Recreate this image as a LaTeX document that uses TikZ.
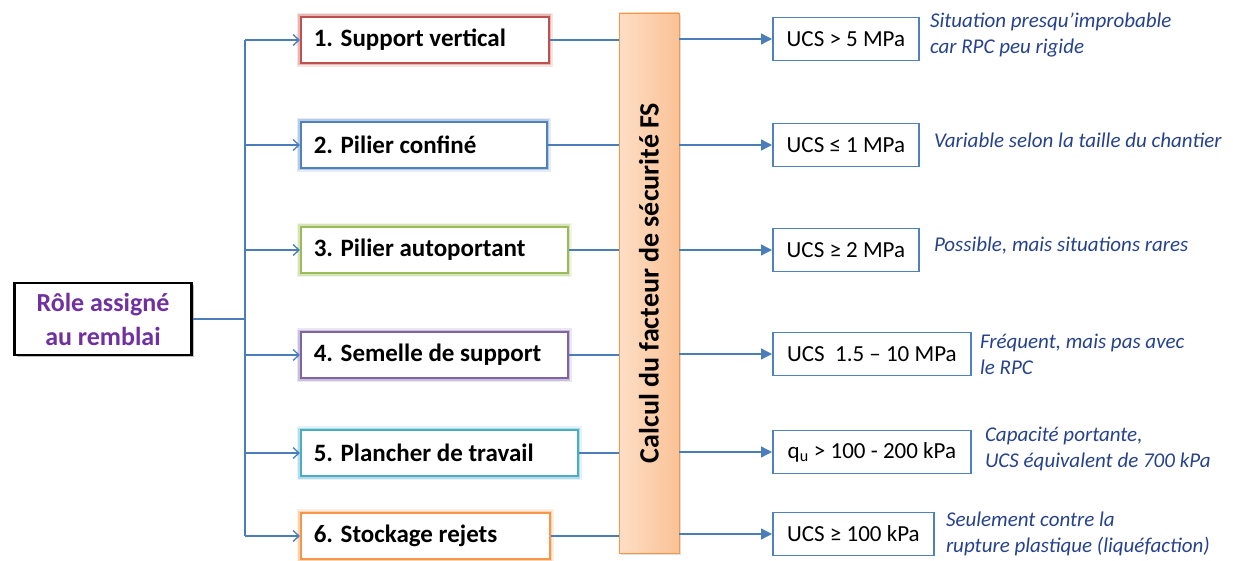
\documentclass[tikz,border=0pt]{standalone}
\usepackage{fontspec}
\setmainfont{Carlito}
\usetikzlibrary{arrows.meta,positioning,shadows}

\definecolor{linkblue}{RGB}{74,126,187}
\definecolor{notecol}{RGB}{38,66,140}
\definecolor{rolepurple}{RGB}{112,48,160}
\definecolor{cred}{RGB}{192,80,77}
\definecolor{cblue}{RGB}{79,129,189}
\definecolor{cgreen}{RGB}{155,187,89}
\definecolor{cpurple}{RGB}{128,100,162}
\definecolor{ccyan}{RGB}{75,172,198}
\definecolor{corange}{RGB}{247,150,70}

\begin{document}
\begin{tikzpicture}[x=1pt,y=-1pt,
  link/.style={draw=linkblue,line width=1.3pt},
  rolebox/.style={draw=#1,line width=1.6pt,fill=white,
    preaction={draw=#1,line width=8pt,opacity=0.15},
    preaction={draw=#1,line width=5pt,opacity=0.3},
    minimum height=46pt,inner xsep=13pt,anchor=west,align=flush left,
    font=\fontsize{25}{28}\selectfont\bfseries},
  ucsbox/.style={draw=cblue,line width=1.8pt,fill=white,minimum height=43pt,
    anchor=west,font=\fontsize{23}{26}\selectfont},
  note/.style={anchor=west,align=flush left,inner sep=0pt,text=notecol,
    font=\fontsize{21}{26}\selectfont\itshape},
  ]
  \useasboundingbox (0,0) rectangle (1233,561);

  % left box
  \node[draw=black,line width=2.5pt,fill=white,drop shadow,minimum width=177pt,
    minimum height=72pt,align=center,text=rolepurple,
    font=\fontsize{26}{34}\selectfont\bfseries] (role) at (103,319)
    {Rôle assigné\\au remblai};

  % roles
  \node[rolebox=cred,text width=222pt] (r1) at (300,40) {1. Support vertical};
  \node[rolebox=cblue,text width=220pt] (r2) at (300,145) {2. Pilier confiné};
  \node[rolebox=cgreen,text width=241pt] (r3) at (300,250) {3. Pilier autoportant};
  \node[rolebox=cpurple,text width=241pt] (r4) at (300,355) {4. Semelle de support};
  \node[rolebox=ccyan,text width=251pt] (r5) at (300,453) {5. Plancher de travail};
  \node[rolebox=corange,text width=223pt] (r6) at (300,536) {6. Stockage rejets};

  % FS bar
  \node[draw=corange,line width=0.8pt,left color={rgb,255:red,253;green,222;blue,197},
    right color={rgb,255:red,250;green,194;blue,150},drop shadow={opacity=0.25},
    minimum width=60pt,minimum height=540pt] (fs) at (649,283) {};
  \node[rotate=90,font=\fontsize{28}{32}\selectfont\bfseries] (fslabel) at (fs)
    {Calcul du facteur de sécurité FS};

  % UCS boxes
  \node[ucsbox,minimum width=146pt] (u1) at (772,39) {UCS > 5 MPa};
  \node[ucsbox,minimum width=146pt] (u2) at (772,145) {UCS ≤ 1 MPa};
  \node[ucsbox,minimum width=146pt] (u3) at (772,250) {UCS ≥ 2 MPa};
  \node[ucsbox,minimum width=198pt] (u4) at (772,354) {UCS\ \ 1.5 – 10 MPa};
  \node[ucsbox,minimum width=198pt] (u5) at (772,452) {q\textsubscript{u} > 100 - 200 kPa};
  \node[ucsbox,minimum width=161pt] (u6) at (772,534) {UCS ≥ 100 kPa};

  % notes
  \node[note,right=10pt of u1,yshift=4pt] (n1) {Situation presqu’improbable\\car RPC peu rigide};
  \node[note,right=14pt of u2,yshift=5pt] (n2) {Variable selon la taille du chantier};
  \node[note,right=14pt of u3,yshift=4pt] (n3) {Possible, mais situations rares};
  \node[note,right=8pt of u4] (n4) {Fréquent, mais pas avec\\le RPC};
  \node[note,right=13pt of u5,yshift=3pt] (n5) {Capacité portante,\\UCS équivalent de 700 kPa};
  \node[note,right=11pt of u6] (n6) {Seulement contre la\\rupture plastique (liquéfaction)};

  % connectors
  \coordinate (j) at (245,319);
  \coordinate (top) at (245,40);
  \coordinate (bot) at (245,536);
  \draw[link] (role) -- (j);
  \draw[link] (top) -- (bot);
  \foreach \i in {1,...,6}{
    \draw[link,-{Straight Barb[length=6pt,width=11pt]}] (r\i.west -| top) -- (r\i.west);
    \draw[link] (r\i.east) -- (r\i.east -| fs.west);
    \draw[link,-{Triangle[length=11pt,width=11pt]}] (u\i.west -| fs.east) -- (u\i.west);
  }
\end{tikzpicture}
\end{document}
